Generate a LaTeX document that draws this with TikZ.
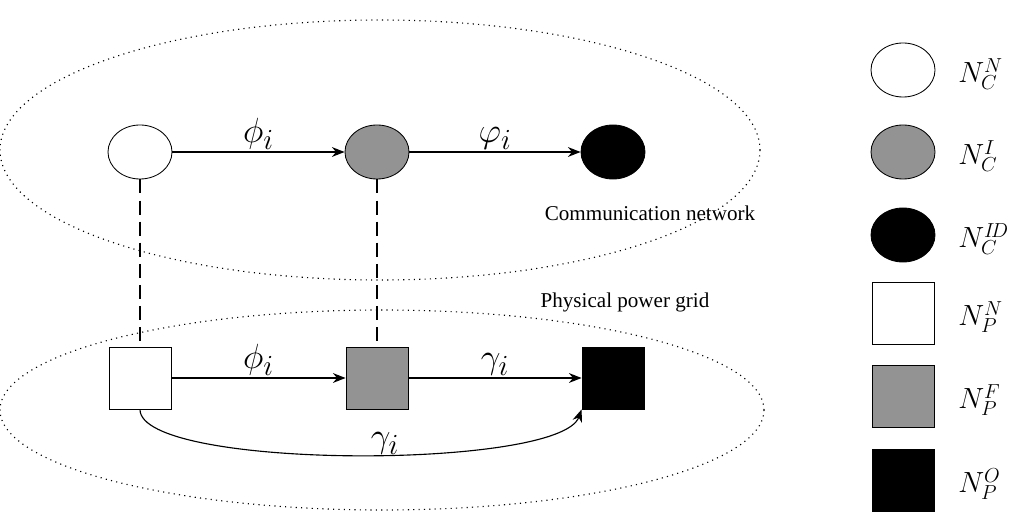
\documentclass[tikz,border=0pt]{standalone}
\usepackage{fontspec}
\setmainfont{Liberation Serif}
\usetikzlibrary{arrows.meta,shapes.geometric}
\begin{document}
\begin{tikzpicture}[x=0.025cm,y=-0.025cm,
 circ/.style={draw,ellipse,minimum width=1.6cm,minimum height=1.35cm,line width=0.6pt},
 sq/.style={draw,minimum size=1.55cm,line width=0.6pt},
 arr/.style={-{Stealth[length=9pt,width=7pt]},line width=0.8pt},
 lab/.style={font=\fontsize{28}{28}\selectfont},
 leg/.style={font=\fontsize{21}{21}\selectfont,anchor=west,inner sep=0pt},
 ell/.style={dash pattern=on 0.8pt off 3pt,line width=0.8pt}]
\useasboundingbox (0,0) rectangle (1020,525);
\draw[ell] (380,150) ellipse [x radius=380,y radius=130];
\draw[ell] (382,410) ellipse [x radius=382,y radius=100];
\node[circ,fill=white] (c1) at (140,152) {};
\node[circ,fill=gray!85] (c2) at (377,152) {};
\node[circ,fill=black] (c3) at (613,152) {};
\node[sq,fill=white] (p1) at (140,378) {};
\node[sq,fill=gray!85] (p2) at (377,378) {};
\node[sq,fill=black] (p3) at (613,378) {};
\draw[arr] (c1) -- node[lab,above=-2pt]{$\phi_i$} (c2);
\draw[arr] (c2) -- node[lab,above=-2pt]{$\varphi_i$} (c3);
\draw[arr] (p1) -- node[lab,above=-2pt]{$\phi_i$} (p2);
\draw[arr] (p2) -- node[lab,above=-2pt]{$\gamma_i$} (p3);
\draw[arr] (p1.south) .. controls (140,470) and (560,470) .. (p3.south west) node[lab,above=-4pt,pos=0.55]{$\gamma_i$};
\draw[dash pattern=on 10pt off 5pt,line width=0.8pt] (c1) -- (p1);
\draw[dash pattern=on 10pt off 5pt,line width=0.8pt] (c2) -- (p2);
\node[font=\fontsize{15}{15}\selectfont] (t1) at (650,213) {Communication network};
\node[font=\fontsize{15}{15}\selectfont] (t2) at (625,302) {Physical power grid};
\node[circ,fill=white] (l1) at (903,70) {};
\node[circ,fill=gray!85] (l2) at (903,152) {};
\node[circ,fill=black] (l3) at (903,235) {};
\node[sq,fill=white] (l4) at (903,313) {};
\node[sq,fill=gray!85] (l5) at (903,396) {};
\node[sq,fill=black] (l6) at (903,480) {};
\node[leg] (n1) at (958,74) {$N_C^N$};
\node[leg] (n2) at (958,156) {$N_C^I$};
\node[leg] (n3) at (958,239) {$N_C^{I\!D}$};
\node[leg] (n4) at (958,317) {$N_P^N$};
\node[leg] (n5) at (958,400) {$N_P^F$};
\node[leg] (n6) at (958,484) {$N_P^O$};
\end{tikzpicture}
\end{document}
